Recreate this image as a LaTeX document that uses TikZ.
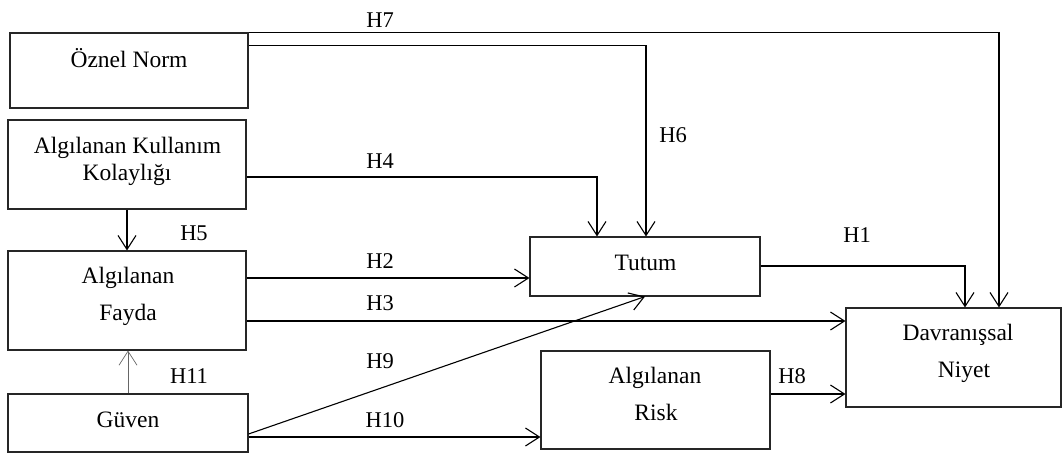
\documentclass[tikz,border=0pt]{standalone}
\usepackage{fontspec}
\setmainfont{Liberation Serif}
\usetikzlibrary{arrows.meta}
\tikzset{
  box/.style={draw=black!85, line width=1.1pt, inner sep=0pt, anchor=center},
  txt/.style={anchor=base, inner sep=0pt, font=\fontsize{23.5}{28}\selectfont},
  lbl/.style={anchor=base, inner sep=0pt, font=\fontsize{22.5}{27}\selectfont},
  arr/.style={line width=1.1pt, -{Straight Barb[length=14pt,width=18pt,line width=1.1pt]}},
  thinarr/.style={line width=0.7pt, draw=black!60, -{Straight Barb[length=14pt,width=18pt,line width=0.7pt]}}
}
\begin{document}
\begin{tikzpicture}[x=1pt,y=-1pt]
\useasboundingbox (0,0) rectangle (1062,456);
% boxes
\node[box, minimum width=238pt, minimum height=75pt] (on) at (129,70.5) {};
\node[box, minimum width=238pt, minimum height=89pt] (akk) at (127,164.5) {};
\node[box, minimum width=238pt, minimum height=99pt] (af) at (127,300.5) {};
\node[box, minimum width=240pt, minimum height=58pt] (gv) at (128,423) {};
\node[box, minimum width=230pt, minimum height=59pt] (tt) at (645,266.5) {};
\node[box, minimum width=215pt, minimum height=99pt] (dn) at (953.5,357.5) {};
\node[box, minimum width=229pt, minimum height=98pt] (ar) at (655.5,400) {};
% box texts
\node[txt] (ton) at (129,67) {Öznel Norm};
\node[txt] (takk1) at (127.5,153) {Algılanan Kullanım};
\node[txt] (takk2) at (127,180) {Kolaylığı};
\node[txt] (taf1) at (128,283) {Algılanan};
\node[txt] (taf2) at (128,320) {Fayda};
\node[txt] (tgv) at (128,427) {Güven};
\node[txt] (ttt) at (645.5,270) {Tutum};
\node[txt] (tdn1) at (958,340) {Davranışsal};
\node[txt] (tdn2) at (964,377) {Niyet};
\node[txt] (tar1) at (655,383) {Algılanan};
\node[txt] (tar2) at (656,420) {Risk};
% connectors
\draw[arr] (on.north east) -| ([xshift=45.5pt]dn.north);
\draw[arr] ([yshift=-13pt]on.north east) -| ([xshift=1pt]tt.north);
\draw[arr] ([yshift=-12.5pt]akk.east) -| ([xshift=-48pt]tt.north);
\draw[arr] (akk.south) -- (af.north);
\draw[arr] ([yshift=22.5pt]af.east) -- ([yshift=22.5pt]af.east -| tt.west);
\draw[arr] ([yshift=-20.5pt]af.east) -- ([yshift=-20.5pt]af.east -| dn.west);
\draw[thinarr] (gv.north) -- (gv.north |- af.south);
\draw[arr] ([yshift=-11pt]gv.east) -- (tt.south);
\draw[arr] ([yshift=-14pt]gv.east) -- ([yshift=-14pt]gv.east -| ar.west);
\draw[arr] ([yshift=6pt]ar.east) -- ([yshift=6pt]ar.east -| dn.west);
\draw[arr] ([yshift=0.5pt]tt.east) -| ([xshift=11.5pt]dn.north);
% labels
\node[lbl] (l7) at (380,27) {H7};
\node[lbl] (l6) at (673,142) {H6};
\node[lbl] (l4) at (380,168) {H4};
\node[lbl] (l5) at (194,240) {H5};
\node[lbl] (l1) at (857,242) {H1};
\node[lbl] (l2) at (380,268) {H2};
\node[lbl] (l3) at (380,310) {H3};
\node[lbl] (l9) at (380,368) {H9};
\node[lbl] (l11) at (189,383) {H11};
\node[lbl] (l10) at (385,427) {H10};
\node[lbl] (l8) at (792,383) {H8};
\end{tikzpicture}
\end{document}
